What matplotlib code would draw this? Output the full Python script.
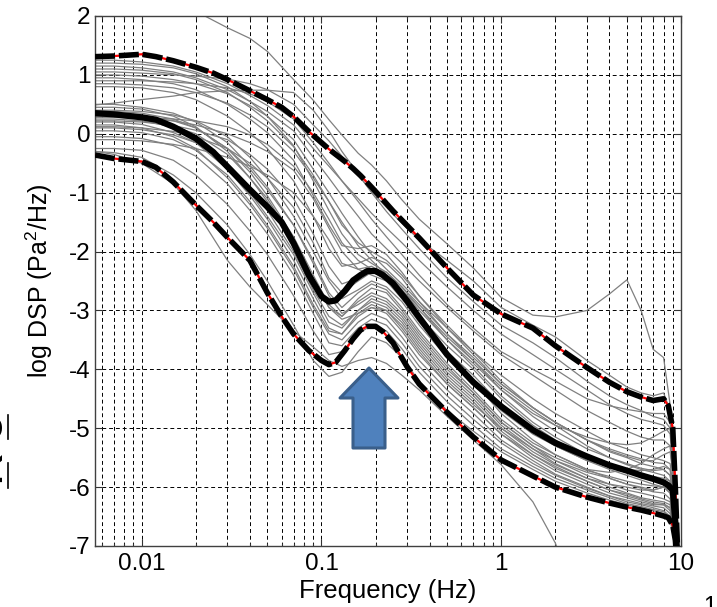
import numpy as np
import matplotlib
matplotlib.use("Agg")
import matplotlib.pyplot as plt
from matplotlib.patches import Polygon
from matplotlib.lines import Line2D
from matplotlib.ticker import NullFormatter

plt.rcParams["font.family"] = ["Liberation Sans", "DejaVu Sans"]
plt.rcParams["axes.unicode_minus"] = False
plt.rcParams["mathtext.default"] = "regular"

nan = np.nan

# ---------------------------------------------------------
# envelope curves (log10 PSD): mean and the two bounds
# ---------------------------------------------------------
freq_env = [0.0055, 0.007, 0.01, 0.012, 0.015, 0.02, 0.025, 0.03, 0.04, 0.05,
            0.06, 0.07, 0.085, 0.1, 0.11, 0.12, 0.135, 0.15, 0.165, 0.18,
            0.2, 0.22, 0.25, 0.3, 0.35, 0.5, 0.7, 1, 1.5, 2,
            3, 4, 5, 6, 7, 8, 8.5, 9, 9.3, 9.6, 10]
upper = [1.31, 1.32, 1.35, 1.31, 1.24, 1.13, 1.03, 0.92, 0.73, 0.58,
         0.45, 0.29, 0.04, -0.15, -0.26, -0.35, -0.47, -0.59, -0.71, -0.83,
         -0.98, -1.12, -1.31, -1.56, -1.77, -2.28, -2.74, -3.06, -3.30, -3.60,
         -3.97, -4.22, -4.38, -4.47, -4.53, -4.50, -4.62, -5.00, -6.00, -7.20, -7.50]
mean_psd = [0.35, 0.33, 0.28, 0.24, 0.12, -0.08, -0.31, -0.56, -0.95, -1.24,
            -1.50, -1.86, -2.40, -2.76, -2.85, -2.83, -2.67, -2.49, -2.40, -2.33,
            -2.33, -2.40, -2.54, -2.84, -3.12, -3.75, -4.22, -4.63, -5.03, -5.25,
            -5.48, -5.63, -5.72, -5.80, -5.86, -5.92, -5.97, -6.05, -6.60, -7.30, -7.50]
lower = [-0.36, -0.42, -0.47, -0.57, -0.82, -1.21, -1.50, -1.76, -2.15, -2.70,
         -3.10, -3.40, -3.68, -3.85, -3.92, -3.88, -3.68, -3.48, -3.33, -3.27,
         -3.27, -3.36, -3.55, -3.96, -4.25, -4.73, -5.15, -5.54, -5.81, -6.00,
         -6.17, -6.27, -6.34, -6.39, -6.44, -6.49, -6.52, -6.65, -6.90, -7.40, -7.50]

# ---------------------------------------------------------
# individual recordings (gray)
# ---------------------------------------------------------
freq = [0.0055, 0.007, 0.01, 0.015, 0.02, 0.03, 0.04, 0.05, 0.07, 0.09,
        0.11, 0.13, 0.16, 0.19, 0.23, 0.28, 0.35, 0.5, 0.7, 1,
        1.5, 2, 3, 4, 5, 6, 7, 8, 8.7, 9.2, 9.6]

g01 = [2.60, 2.55, 2.45, 2.28, 2.08, 1.80, 1.62, 1.40, 0.92, 0.57, 0.24, -0.02, -0.33, -0.53, -0.80, -1.12, -1.45, -1.87, -2.28, -2.78, -3.08, -3.11, -3.00, -2.72, -2.48, -3.00, -3.66, -3.80, -4.60, -5.50, -7.20]
g02 = [1.05, 1.05, 1.03, 1.00, 0.98, 0.93, 0.85, 0.75, 0.50, 0.15, -0.12, -0.38, -0.70, -0.98, -1.25, -1.52, -1.80, -2.15, -2.50, -2.95, -3.25, -3.45, -3.85, -4.10, -4.30, -4.40, -4.45, -4.40, -4.70, -5.60, -7.20]
g03 = [0.49, 0.52, 0.58, 0.64, 0.70, 0.73, 0.74, 0.74, 0.70, 0.40, 0.05, -0.30, -0.68, -1.00, -1.32, -1.62, -1.95, -2.45, -2.85, -3.25, -3.55, -3.80, -4.20, -4.45, -4.60, -4.70, -4.80, -4.85, -5.00, -5.80, -7.20]
g04 = [1.25, 1.25, 1.22, 1.15, 1.05, 0.85, 0.65, 0.48, 0.15, -0.25, -0.55, -0.80, -1.10, -1.35, -1.60, -1.85, -2.15, -2.60, -3.00, -3.40, -3.75, -4.00, -4.35, -4.60, -4.75, -4.85, -4.90, -4.95, -5.10, -5.90, -7.30]
g05 = [1.15, 1.15, 1.12, 1.05, 0.95, 0.75, 0.55, 0.38, 0.05, -0.40, -0.75, -1.05, -1.40, -1.70, -1.95, -2.20, -2.50, -2.95, -3.35, -3.75, -4.10, -4.35, -4.70, -4.90, -5.05, -5.15, -5.20, -5.20, -5.30, -6.00, -7.30]
g06 = [1.00, 1.00, 0.98, 0.92, 0.85, 0.68, 0.48, 0.30, -0.10, -0.60, -1.00, -1.35, -1.75, -2.05, -2.30, -2.55, -2.85, -3.30, -3.70, -4.10, -4.50, -4.75, -5.05, -5.25, -5.35, -5.45, -5.50, -5.55, -5.60, -6.20, -7.30]
g07 = [0.95, 0.95, 0.92, 0.85, 0.75, 0.50, 0.25, 0.02, -0.45, -1.05, -1.55, -1.90, -1.95, -1.90, -2.05, -2.35, -2.75, -3.25, -3.70, -4.20, -4.65, -4.90, -5.20, -5.40, -5.50, -5.60, -5.65, -5.70, -5.80, -6.30, -7.30]
g08 = [0.80, 0.80, 0.78, 0.70, 0.58, 0.30, 0.02, -0.25, -0.80, -1.40, -1.95, -2.25, -2.20, -2.10, -2.20, -2.45, -2.85, -3.40, -3.85, -4.35, -4.80, -5.05, -5.35, -5.50, -5.62, -5.70, -5.75, -5.80, -5.90, -6.40, -7.30]
g09 = [0.28, 0.28, 0.26, 0.22, 0.15, 0.00, -0.15, -0.30, -0.62, -1.10, -1.60, -2.00, -2.30, -2.40, -2.50, -2.75, -3.10, -3.60, -4.00, -4.50, -4.95, -5.20, -5.50, -5.65, -5.75, -5.82, -5.88, -5.90, -6.00, -6.50, -7.30]
g10 = [0.12, 0.12, 0.10, 0.04, -0.05, -0.25, -0.50, -0.75, -1.25, -1.85, -2.45, -2.70, -2.50, -2.35, -2.45, -2.75, -3.15, -3.70, -4.10, -4.60, -5.05, -5.30, -5.55, -5.70, -5.80, -5.88, -5.95, -6.00, -6.10, -6.60, -7.30]
g11 = [0.50, 0.50, 0.45, 0.35, 0.20, -0.15, -0.55, -0.90, -1.55, -2.15, -2.70, -2.95, -2.70, -2.55, -2.65, -2.95, -3.35, -3.90, -4.35, -4.85, -5.25, -5.45, -5.70, -5.85, -5.95, -6.02, -6.08, -6.10, -6.20, -6.60, -7.30]
g12 = [0.45, 0.45, 0.42, 0.30, 0.12, -0.30, -0.75, -1.10, -1.80, -2.45, -2.95, -3.10, -2.80, -2.62, -2.70, -3.00, -3.40, -3.95, -4.40, -4.90, -5.30, -5.55, -5.80, -5.95, -6.05, -6.10, -6.15, -6.20, -6.25, -6.70, -7.30]
g13 = [0.38, 0.38, 0.35, 0.25, 0.10, -0.25, -0.60, -0.95, -1.55, -2.20, -2.75, -3.05, -2.90, -2.75, -2.85, -3.10, -3.50, -4.05, -4.45, -4.95, -5.35, -5.60, -5.85, -6.00, -6.10, -6.18, -6.22, -6.25, -6.30, -6.80, -7.30]
g14 = [0.30, 0.30, 0.25, 0.10, -0.10, -0.55, -1.00, -1.40, -2.05, -2.70, -3.20, -3.30, -3.00, -2.85, -2.95, -3.20, -3.60, -4.15, -4.55, -5.05, -5.45, -5.65, -5.90, -6.05, -6.15, -6.22, -6.28, -6.30, -6.35, -6.80, -7.30]
g15 = [0.25, 0.25, 0.22, 0.12, 0.00, -0.35, -0.75, -1.15, -1.80, -2.45, -2.95, -3.15, -3.05, -2.95, -3.00, -3.25, -3.65, -4.20, -4.60, -5.00, -5.35, -5.55, -5.75, -5.85, -5.95, -6.00, -6.05, -6.00, -6.10, -6.60, -7.30]
g16 = [0.20, 0.20, 0.16, 0.02, -0.15, -0.60, -1.05, -1.45, -2.15, -2.80, -3.30, -3.40, -3.10, -2.95, -3.05, -3.35, -3.75, -4.25, -4.65, -5.10, -5.50, -5.72, -5.95, -6.10, -6.18, -6.25, -6.30, -6.30, -6.40, -6.90, -7.30]
g17 = [0.15, 0.15, 0.10, -0.05, -0.25, -0.75, -1.20, -1.60, -2.30, -2.95, -3.40, -3.50, -3.20, -3.05, -3.15, -3.45, -3.85, -4.35, -4.75, -5.20, -5.55, -5.78, -6.00, -6.15, -6.22, -6.28, -6.32, -6.35, -6.45, -6.90, -7.30]
g18 = [-0.05, -0.05, -0.08, -0.20, -0.38, -0.85, -1.30, -1.70, -2.40, -3.05, -3.55, -3.60, -3.30, -3.15, -3.25, -3.55, -3.95, -4.45, -4.85, -5.25, -5.60, -5.80, -6.02, -6.15, -6.25, -6.30, -6.35, -6.40, -6.50, -6.90, -7.30]
g19 = [-0.25, -0.25, -0.28, -0.45, -0.70, -1.20, -1.65, -2.05, -2.75, -3.35, -3.75, -3.70, -3.40, -3.25, -3.35, -3.65, -4.05, -4.55, -4.95, -5.35, -5.65, -5.85, -6.05, -6.18, -6.28, -6.33, -6.38, -6.42, -6.50, -6.90, -7.30]
g20 = [-0.30, -0.32, -0.40, -0.70, -1.00, -1.55, -2.05, -2.50, -3.25, -3.85, -4.12, -4.05, -3.70, -3.45, -3.55, -3.80, -4.20, -4.70, -5.05, -5.40, -5.70, -5.90, -6.10, -6.22, -6.30, -6.36, -6.40, -6.45, -6.55, -6.95, -7.30]
g21 = [-0.30, -0.35, -0.50, -0.85, -1.30, -2.15, -2.60, -2.90, -3.35, -3.62, -3.85, -3.95, -3.85, -3.80, -3.90, -4.10, -4.35, -4.80, -5.20, -5.62, -6.25, -6.95, -8.50, nan, nan, nan, nan, nan, nan, nan, nan]
g22 = [0.85, 0.85, 0.83, 0.78, 0.70, 0.52, 0.32, 0.12, -0.30, -0.75, -1.15, -1.50, -1.90, -2.15, -2.40, -2.65, -2.95, -3.45, -3.85, -4.30, -4.70, -4.95, -5.30, -5.50, -5.60, -5.68, -5.72, -5.70, -5.80, -6.30, -7.30]
g23 = [1.10, 1.10, 1.08, 1.02, 0.92, 0.70, 0.45, 0.22, -0.22, -0.70, -1.15, -1.55, -1.85, -2.00, -2.15, -2.40, -2.75, -3.30, -3.75, -4.25, -4.65, -4.90, -5.20, -5.38, -5.48, -5.55, -5.55, -5.45, -5.40, -6.00, -7.30]
g24 = [-0.10, -0.10, -0.12, -0.18, -0.25, -0.40, -0.55, -0.70, -1.00, -1.40, -1.80, -2.20, -2.30, -2.25, -2.40, -2.65, -3.00, -3.50, -3.90, -4.35, -4.75, -4.95, -5.15, -5.25, -5.28, -5.25, -5.15, -5.05, -5.00, -5.80, -7.30]
g25 = [0.40, 0.40, 0.38, 0.32, 0.22, -0.05, -0.40, -0.75, -1.40, -2.00, -2.50, -2.80, -2.65, -2.50, -2.60, -2.85, -3.25, -3.80, -4.20, -4.70, -5.10, -5.30, -5.55, -5.65, -5.70, -5.72, -5.70, -5.65, -5.70, -6.30, -7.30]
g26 = [0.10, 0.10, 0.07, -0.02, -0.15, -0.50, -0.90, -1.30, -2.00, -2.65, -3.10, -3.25, -3.00, -2.80, -2.90, -3.15, -3.55, -4.10, -4.50, -5.00, -5.40, -5.62, -5.85, -5.95, -6.00, -6.05, -6.05, -6.00, -6.05, -6.60, -7.30]
g27 = [0.22, 0.22, 0.20, 0.14, 0.06, -0.10, -0.35, -0.60, -1.10, -1.70, -2.25, -2.55, -2.45, -2.30, -2.35, -2.60, -2.95, -3.50, -3.95, -4.45, -4.90, -5.15, -5.45, -5.60, -5.70, -5.78, -5.82, -5.85, -5.90, -6.40, -7.30]
g28 = [0.32, 0.32, 0.30, 0.22, 0.10, -0.25, -0.65, -1.05, -1.75, -2.40, -2.90, -3.10, -2.85, -2.70, -2.80, -3.05, -3.45, -4.00, -4.40, -4.90, -5.30, -5.50, -5.72, -5.82, -5.90, -5.95, -5.98, -6.00, -6.05, -6.60, -7.30]
g29 = [1.20, 1.20, 1.18, 1.12, 1.02, 0.80, 0.55, 0.30, -0.20, -0.80, -1.30, -1.70, -2.05, -2.20, -2.35, -2.60, -2.90, -3.40, -3.80, -4.25, -4.65, -4.90, -5.20, -5.35, -5.45, -5.52, -5.58, -5.60, -5.70, -6.20, -7.30]
g30 = [0.90, 0.90, 0.90, 0.88, 0.85, 0.78, 0.68, 0.55, 0.25, -0.15, -0.50, -0.80, -1.15, -1.45, -1.75, -2.05, -2.40, -2.90, -3.30, -3.70, -4.00, -4.20, -4.50, -4.62, -4.68, -4.72, -4.75, -4.75, -4.90, -5.80, -7.30]
g31 = [0.05, 0.05, 0.02, -0.10, -0.28, -0.70, -1.15, -1.55, -2.25, -2.90, -3.35, -3.40, -3.05, -2.90, -3.00, -3.30, -3.70, -4.25, -4.65, -5.10, -5.45, -5.68, -5.90, -6.05, -6.12, -6.20, -6.25, -6.28, -6.35, -6.80, -7.30]
g32 = [0.30, 0.30, 0.28, 0.25, 0.22, 0.12, -0.02, -0.18, -0.55, -1.00, -1.45, -1.85, -2.15, -2.30, -2.50, -2.80, -3.20, -3.75, -4.20, -4.75, -5.20, -5.45, -5.70, -5.75, -5.70, -5.60, -5.45, -5.35, -5.30, -6.00, -7.30]

gray_curves = [g01, g02, g03, g04, g05, g06, g07, g08, g09, g10, g11, g12, g13, g14, g15, g16,
               g17, g18, g19, g20, g21, g22, g23, g24, g25, g26, g27, g28, g29, g30, g31, g32]

xticks = [0.01, 0.1, 1, 10]
xtick_labels = ["0.01", "0.1", "1", "10"]
yticks = [-7, -6, -5, -4, -3, -2, -1, 0, 1, 2]

# ---------------------------------------------------------
# PLOT
# ---------------------------------------------------------
fig = plt.figure(figsize=(7.17, 6.07), dpi=100)
ax = fig.add_axes([95 / 717, 61 / 607, 586 / 717, 530 / 607])

for g in gray_curves:
    ax.plot(freq, g, color="0.5", lw=0.9, zorder=2)

for bound in (upper, lower):
    ax.plot(freq_env, bound, color="red", lw=1.6, zorder=3)
    ax.plot(freq_env, bound, color="black", lw=4.0, linestyle=(0, (3.6, 0.7)),
            dash_capstyle="butt", zorder=4)
ax.plot(freq_env, mean_psd, color="black", lw=4.5, zorder=4,
        solid_joinstyle="round")

ax.set_xscale("log")
ax.set_xlim(0.0055, 10)
ax.set_ylim(-7, 2)
ax.set_xticks(xticks)
ax.set_xticklabels(xtick_labels)
ax.xaxis.set_minor_formatter(NullFormatter())
ax.set_yticks(yticks)

ax.set_axisbelow(True)
grid_style = dict(color="black", linestyle=(0, (4, 3)), linewidth=0.7)
ax.grid(True, which="major", axis="both", **grid_style)
ax.grid(True, which="minor", axis="x", **grid_style)

ax.tick_params(which="both", direction="in", top=True, right=True,
               labelsize=17.5, color="0.2", width=0.8)
ax.tick_params(which="major", length=5)
ax.tick_params(which="minor", length=2.5)
ax.tick_params(axis="x", pad=5)
ax.tick_params(axis="y", pad=3.5)
for s in ax.spines.values():
    s.set_color("0.25")
    s.set_linewidth(1.0)

ax.set_xlabel("Frequency (Hz)", fontsize=18.5)
ax.xaxis.set_label_coords(0.5, -0.063)
ax.set_ylabel("log DSP (Pa$^2$/Hz)", fontsize=18)
ax.yaxis.set_label_coords(-0.068, 0.5)

# blue block arrow pointing at the bump (figure pixels -> fraction)
arrow_px = [(369, 368), (398, 398), (385, 398), (385, 448),
            (353, 448), (353, 398), (340, 398)]
arrow_pts = [(x / 717, 1 - y / 607) for x, y in arrow_px]
fig.patches.append(Polygon(arrow_pts, closed=True, transform=fig.transFigure,
                           facecolor="#4F81BD", edgecolor="#3A5F8B", lw=2.2,
                           joinstyle="round", zorder=10))

# slide text clipped at the figure edges, as in the source image
fig.text(13 / 717, 1 - 450 / 607, "K e", rotation=90, ha="right", va="center",
         fontsize=34, color="black")
for y0, y1 in ((415, 439), (463, 488)):
    fig.add_artist(Line2D([8 / 717, 8 / 717], [1 - y0 / 607, 1 - y1 / 607],
                          color="black", lw=1.2))
fig.text(710 / 717, 1 - 596 / 607, "1", ha="center", va="top", fontsize=17)

fig.savefig("out.png", dpi=100)
